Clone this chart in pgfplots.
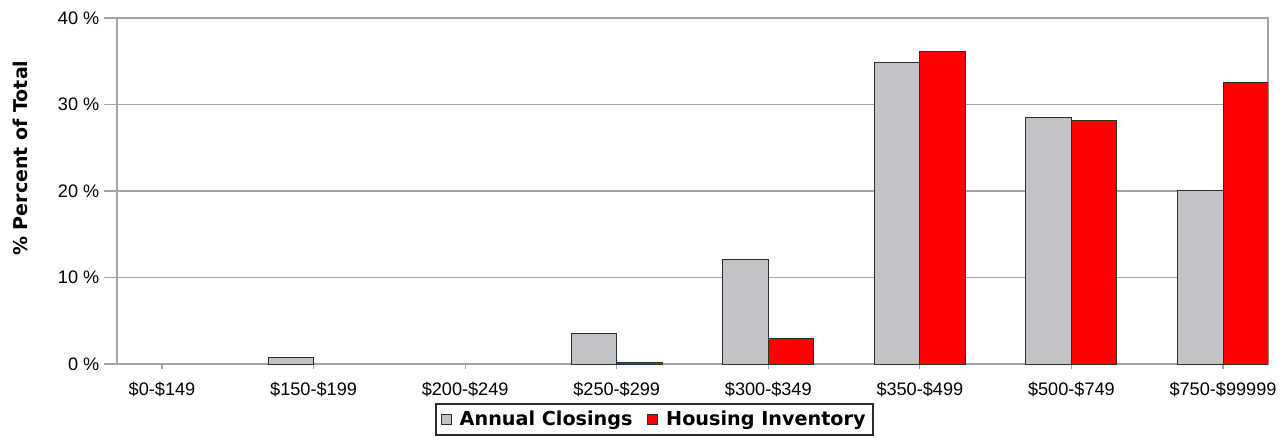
\documentclass[border=0pt]{standalone}
\usepackage{fontspec}
\setmainfont{Liberation Sans}
\newfontfamily\djv{DejaVu Sans}
\usepackage{pgfplots}
\pgfplotsset{compat=1.18}
\definecolor{barGray}{RGB}{196,194,198}
\definecolor{axGray}{RGB}{165,165,165}
\definecolor{edge}{RGB}{45,45,45}
\begin{document}
\begin{tikzpicture}
\begin{axis}[
  scale only axis, width=863.25pt, height=259.5pt,
  xmin=-0.297, xmax=7.297, ymin=0, ymax=40,
  xtick={0,...,7},
  xticklabels={\$0-\$149,\$150-\$199,\$200-\$249,\$250-\$299,\$300-\$349,\$350-\$499,\$500-\$749,\$750-\$99999},
  ytick={0,10,20,30,40},
  yticklabel={\pgfmathprintnumber{\tick}~\%},
  /pgf/number format/assume math mode=true,
  ymajorgrids, grid style={axGray, line width=0.9pt},
  axis line style={axGray, line width=0.9pt},
  tick style={axGray, line width=0.9pt},
  tick align=outside, major tick length=9.75pt,
  xtick style={/pgfplots/major tick length=4pt},
  xtick pos=left, ytick pos=left,
  ticklabel style={font=\fontsize{13.6}{16}\selectfont},
  ylabel={\% Percent of Total},
  ylabel style={font=\djv\bfseries\fontsize{14.25}{16}\selectfont, at={(axis description cs:-0.0843,0.595)}, anchor=center},
  legend image code/.code={\draw[#1,line width=0.75pt] (0pt,-3.75pt) rectangle (7.5pt,3.75pt);},
  legend style={at={(axis description cs:0.467,-0.1127)}, anchor=north, draw=edge, line width=1.2pt,
    font=\djv\bfseries\fontsize{14.4}{16}\selectfont, legend columns=2,
    /tikz/every even column/.append style={column sep=9pt}, inner sep=3.5pt},
]
\addplot[ybar, bar width=0.3, bar shift=-0.15, fill=barGray, draw=edge, line width=0.75pt]
  coordinates {(1,0.7) (3,3.5) (4,12.1) (5,34.9) (6,28.5) (7,20.1)};
\addplot[ybar, bar width=0.3, bar shift=0.15, fill=red, draw=edge, line width=0.75pt]
  coordinates {(3,0.15) (4,3.0) (5,36.1) (6,28.2) (7,32.5)};
\legend{\hspace{4pt}Annual Closings, \hspace{4pt}Housing Inventory}
\end{axis}
\pgfresetboundingbox
\path[use as bounding box] ([shift={(-87.75pt,-59.25pt)}]current axis.south west) rectangle ([shift={(13.5pt,13.5pt)}]current axis.north east);
\end{tikzpicture}
\end{document}
